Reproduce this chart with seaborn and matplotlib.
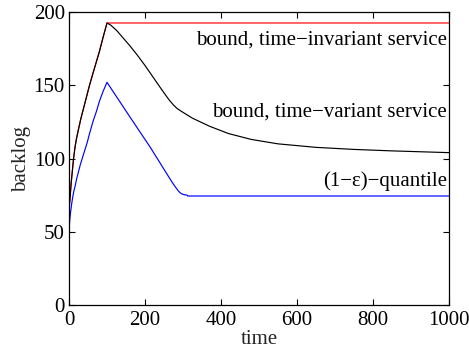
import numpy as np
import pandas as pd
import matplotlib
matplotlib.use("Agg")
import matplotlib.pyplot as plt
import seaborn as sns

# ---- data ----
inv_t = [0, 1, 3, 6, 9, 12, 16, 20, 25, 31, 38, 44, 54, 64, 72, 80, 90, 100, 1000]
inv_v = [65, 68, 74, 84, 92, 100, 108, 114, 120, 127, 134, 140, 150, 159, 166, 173,
         183, 192.5, 192.5]

var_t = [0, 1, 3, 6, 9, 12, 16, 20, 25, 31, 38, 44, 54, 64, 72, 80, 90, 100, 110,
         125, 140, 160, 180, 200, 220, 240, 255, 265, 275, 285, 300, 325, 370, 420,
         480, 550, 650, 750, 850, 1000]
var_v = [65, 68, 74, 84, 92, 100, 108, 114, 120, 127, 134, 140, 150, 159, 166, 173,
         183, 192.5, 191, 187.5, 183, 177, 170.5, 163.5, 156, 148.5, 143, 139.5,
         136.5, 134, 131.5, 127.5, 122, 117, 113, 110, 107.6, 106.2, 105.2, 104]

q_t = [0, 0, 2, 4, 7, 10, 13, 16, 20, 25, 30, 36, 42, 48, 54, 64, 72, 80, 90, 100,
       160, 213, 266, 276, 283, 288, 293, 298, 305, 311, 312, 1000]
q_v = [0, 51, 58, 63, 69, 74, 78, 81, 86, 91, 96, 101, 106, 111, 117, 126, 132, 139,
       146, 152, 128.5, 108, 86, 82, 79.5, 77.8, 76.5, 75.7, 75.2, 75, 74.4, 74.4]

xticks = [0, 200, 400, 600, 800, 1000]
yticks = [0, 50, 100, 150, 200]
labels = ["bound, time\u2212invariant service", "bound, time\u2212variant service",
          "(1\u2212\u03b5)\u2212quantile"]
label_y = [178, 128.5, 81]

sns.set_style("ticks")
plt.rcParams["font.family"] = ["Liberation Serif", "DejaVu Serif"]
fs = 15.0

fig = plt.figure(figsize=(4.69, 3.54), dpi=100)
ax = fig.add_axes([69 / 469, 1 - 305 / 354, 380 / 469, 293 / 354])

d_inv = pd.DataFrame({"t": inv_t, "v": inv_v})
d_var = pd.DataFrame({"t": var_t, "v": var_v})
d_q = pd.DataFrame({"t": q_t, "v": q_v})

sns.lineplot(data=d_inv, x="t", y="v", ax=ax, color="#ff0000", lw=0.85,
             estimator=None, sort=False)
sns.lineplot(data=d_var, x="t", y="v", ax=ax, color="black", lw=0.85,
             estimator=None, sort=False)
sns.lineplot(data=d_q, x="t", y="v", ax=ax, color="#0000ff", lw=0.85,
             estimator=None, sort=False)

ax.set_xlim(0, 1000)
ax.set_ylim(0, 200)
ax.set_xticks(xticks)
ax.set_yticks(yticks)
ax.set_xticklabels([str(v) for v in xticks], fontsize=fs)
ax.set_yticklabels([str(v) for v in yticks], fontsize=fs)
ax.tick_params(direction="in", length=4, width=0.8, top=True, right=True,
               colors="black")
ax.tick_params(axis="x", pad=4)
ax.tick_params(axis="y", pad=3)
for s in ax.spines.values():
    s.set_visible(True)
    s.set_color("black")
    s.set_linewidth(0.9)

ax.set_xlabel("time", fontsize=fs, labelpad=0)
ax.set_ylabel("backlog", fontsize=fs, labelpad=2)

for txt, yv in zip(labels, label_y):
    ax.text(995, yv, txt, ha="right", va="baseline", fontsize=fs, color="black")

fig.savefig("out.png", dpi=100)
